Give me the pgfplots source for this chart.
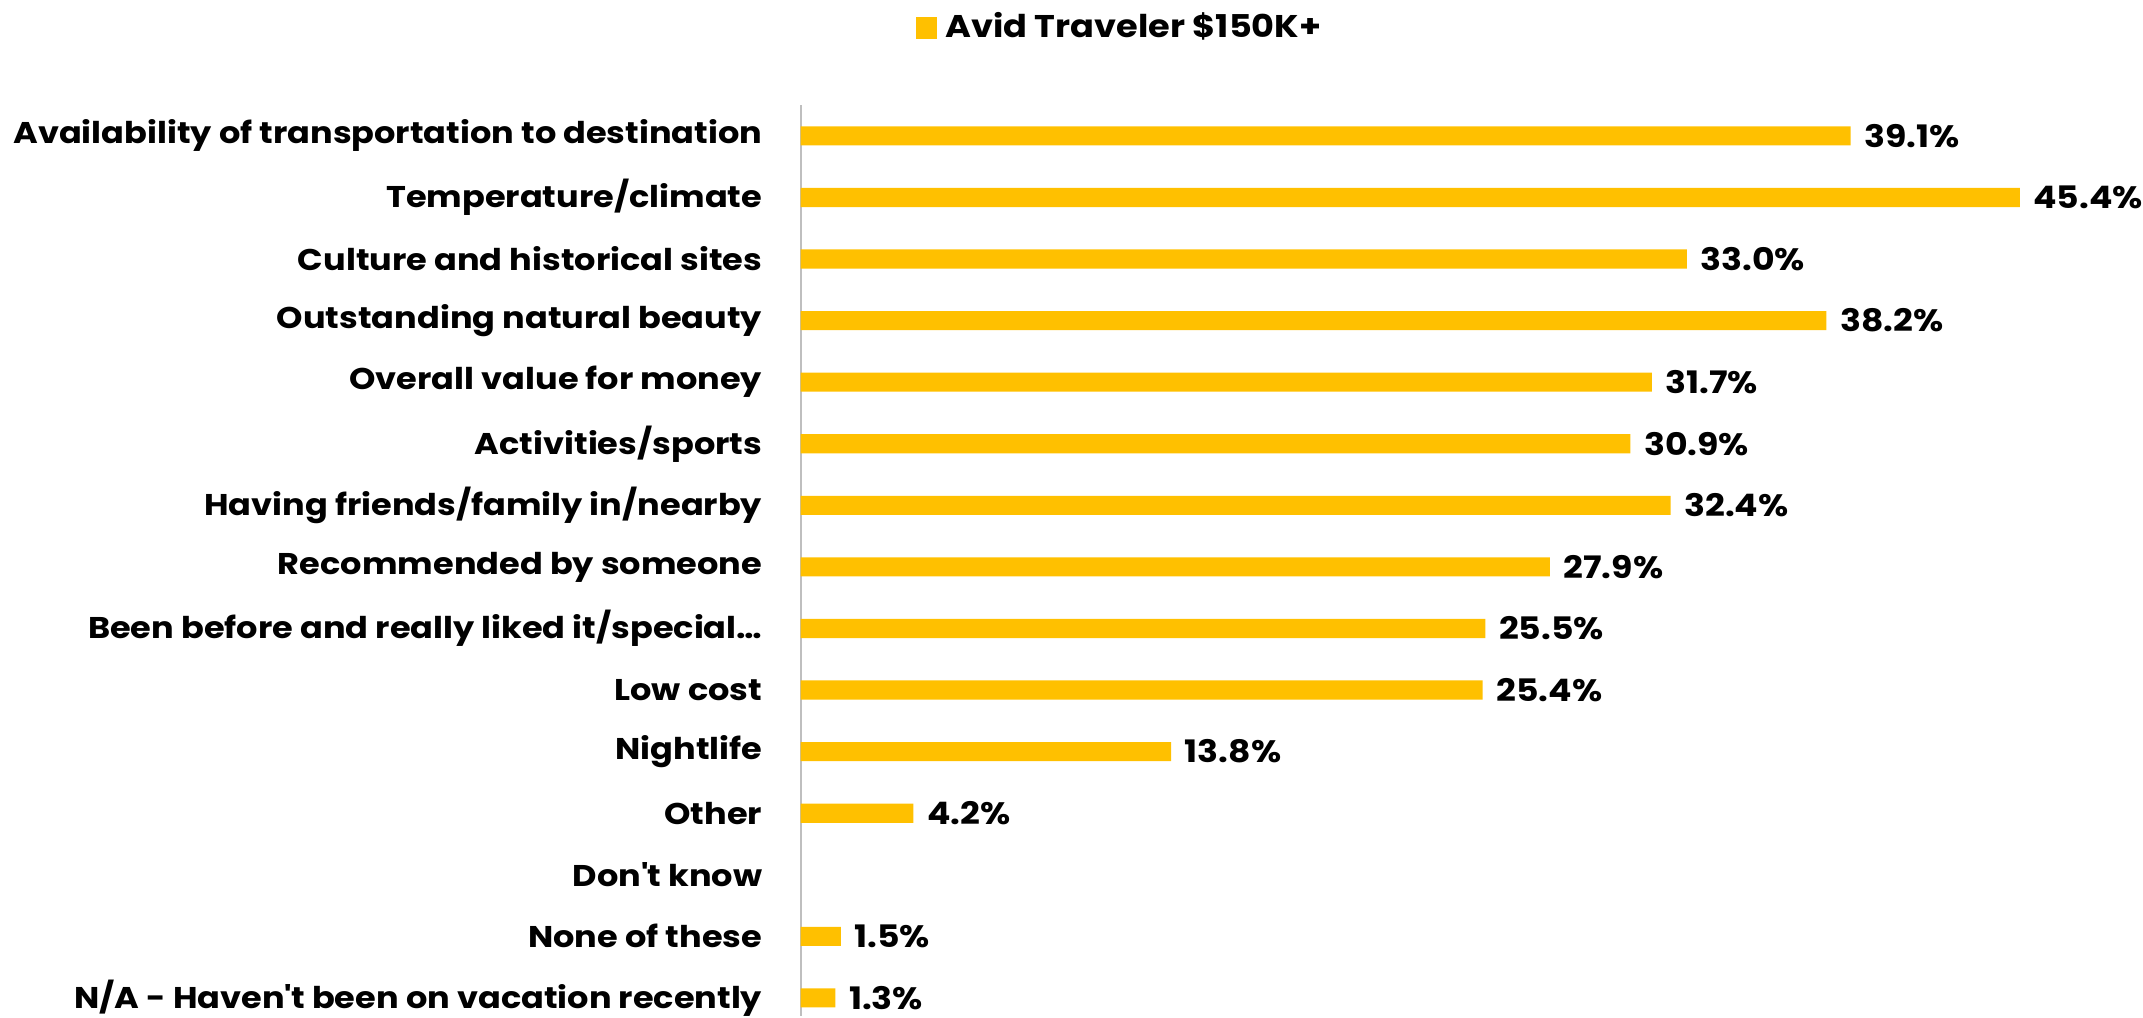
\documentclass[border=0pt]{standalone}
\usepackage{fontspec}
\setmainfont{Poppins}[FakeStretch=1.12]
\usepackage{pgfplots}
\pgfplotsset{compat=1.18}
\definecolor{barorange}{HTML}{FFC000}
\definecolor{axisgray}{HTML}{BFBFBF}

\begin{document}
\begin{tikzpicture}
\begin{axis}[
    scale only axis,
    width=333.75pt, height=226.5pt,
    xbar, bar width=4.75pt, bar shift=0pt,
    xmin=0, xmax=50,
    ymin=-0.5, ymax=14.3,
    y dir=reverse,
    axis x line=none,
    axis y line*=left,
    y axis line style={axisgray, line width=0.5pt, -},
    ytick={0,...,14},
    yticklabels={
        Availability of transportation to destination,
        Temperature/climate,
        Culture and historical sites,
        Outstanding natural beauty,
        Overall value for money,
        Activities/sports,
        Having friends/family in/nearby,
        Recommended by someone,
        Been before and really liked it/special…,
        Low cost,
        Nightlife,
        Other,
        Don\textquotesingle t know,
        None of these,
        N/A - Haven\textquotesingle t been on vacation recently},
    major tick length=0pt,
    yticklabel style={font=\fontsize{7.45}{9}\selectfont\bfseries, xshift=-6pt, inner ysep=0pt},
    nodes near coords={\pgfmathprintnumber[fixed,fixed zerofill,precision=1,assume math mode=true]{\pgfplotspointmeta}\%},
    nodes near coords style={font=\fontsize{7.7}{9}\selectfont\bfseries, anchor=west,
        inner xsep=0pt, inner ysep=0pt, xshift=3.2pt},
    legend style={at={(0.24,1.085)}, anchor=center, draw=none, fill=none, inner sep=0pt,
        nodes={inner ysep=3pt},
        font=\fontsize{7.8}{9}\selectfont\bfseries},
    legend image code/.code={\fill[barorange] (0pt,-2.75pt) rectangle (5.25pt,2.75pt);},
]
\addplot[fill=barorange, draw=none] coordinates {
    (39.1,0) (45.4,1) (33.0,2) (38.2,3) (31.7,4) (30.9,5) (32.4,6)
    (27.9,7) (25.5,8) (25.4,9) (13.8,10) (4.2,11) (1.5,13) (1.3,14)};
\addlegendentry{Avid Traveler \$150K+}
\end{axis}
\end{tikzpicture}
\end{document}
